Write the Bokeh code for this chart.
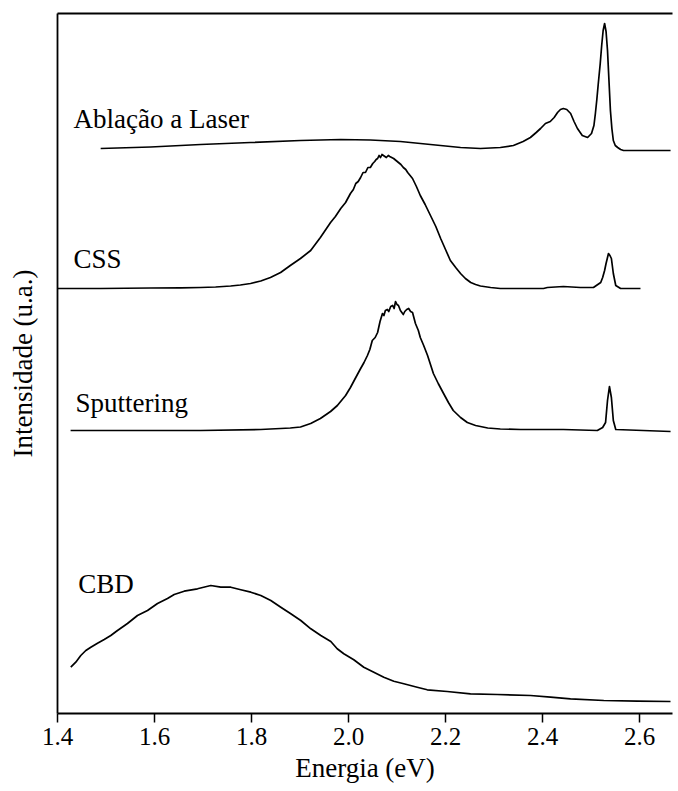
from bokeh.plotting import figure
from bokeh.models import LinearAxis, FixedTicker, PrintfTickFormatter
from bokeh.core.properties import value
from bokeh.embed import file_html
from bokeh.resources import INLINE

FONT = "Liberation Serif"

# Energia (eV) and intensity (u.a., vertically offset) for each spectrum
abl_E = [1.489, 1.592, 1.695, 1.798, 1.901, 1.984, 2.045, 2.107, 2.169, 2.231, 2.272, 2.313,
         2.340, 2.360, 2.375, 2.387, 2.396, 2.406, 2.416, 2.424, 2.431, 2.437, 2.443, 2.450,
         2.458, 2.465, 2.472, 2.482, 2.493, 2.501, 2.506, 2.509, 2.512, 2.515, 2.519, 2.522,
         2.525, 2.528, 2.531, 2.534, 2.537, 2.540, 2.543, 2.546, 2.550, 2.555, 2.561, 2.567,
         2.664]
abl_I = [565, 566.5, 569, 571, 573, 574, 573.5, 572, 569, 566, 565, 566,
         568, 572, 576, 581, 585, 590, 592, 596, 601, 604, 605, 604,
         600, 592, 585, 578, 576, 580, 588, 600, 614, 630, 650, 668,
         683, 690, 682, 663, 633, 603, 585, 573, 568, 566, 564, 563,
         563]

css_E = [1.400, 1.489, 1.592, 1.654, 1.695, 1.726, 1.757, 1.777, 1.798, 1.819, 1.839, 1.860,
         1.880, 1.901, 1.922, 1.942, 1.963, 1.973, 1.984, 1.994, 2.004, 2.010, 2.015, 2.020,
         2.025, 2.030, 2.035, 2.040, 2.045, 2.050, 2.054, 2.057, 2.060, 2.063, 2.066, 2.069,
         2.072, 2.075, 2.078, 2.082, 2.085, 2.089, 2.093, 2.098, 2.103, 2.108, 2.113, 2.118,
         2.122, 2.127, 2.132, 2.140, 2.148, 2.158, 2.169, 2.180, 2.190, 2.200, 2.210, 2.221,
         2.231, 2.241, 2.252, 2.262, 2.272, 2.293, 2.313, 2.402, 2.410, 2.443, 2.478, 2.505,
         2.514, 2.520, 2.524, 2.528, 2.531, 2.534, 2.536, 2.539, 2.542, 2.546, 2.551, 2.561,
         2.602]
css_I = [425, 425, 425.5, 425.7, 426, 426.5, 427.5, 428.5, 430, 432.5, 436, 441,
         448, 455, 463, 476, 491, 497, 505, 511, 520, 524, 530, 532,
         536, 541, 541, 546, 546, 550, 552, 554, 555, 558, 556, 559,
         558, 557, 556, 558, 557, 556, 555, 553, 551, 549, 546, 544,
         541, 538, 535, 527, 518, 509, 498, 487, 475, 464, 453, 446,
         440, 435, 431, 429, 427.5, 426, 425, 425, 426, 427,
         426, 426, 429, 431, 436, 443, 450, 456, 460, 458, 455, 440, 428, 425,
         425]

spt_E = [1.427, 1.592, 1.695, 1.819, 1.839, 1.860, 1.880, 1.901, 1.922, 1.942, 1.963, 1.977,
         1.994, 2.004, 2.015, 2.025, 2.032, 2.039, 2.044, 2.049, 2.055, 2.060, 2.065, 2.070,
         2.073, 2.076, 2.080, 2.083, 2.087, 2.091, 2.094, 2.097, 2.100, 2.103, 2.107, 2.110,
         2.113, 2.116, 2.120, 2.124, 2.128, 2.132, 2.138, 2.144, 2.148, 2.155, 2.163, 2.175,
         2.185, 2.196, 2.206, 2.216, 2.231, 2.245, 2.262, 2.287, 2.313, 2.355, 2.443, 2.513,
         2.524, 2.530, 2.534, 2.538, 2.542, 2.546, 2.551, 2.664]
spt_I = [283, 283, 283, 284, 284.5, 285, 285.5, 286.5, 290, 295, 302, 308,
         318, 326, 336, 345, 351, 358, 364, 373, 376, 381, 392, 400,
         398, 403, 404, 402, 407, 408, 405, 412, 409, 408, 403, 401,
         399, 402, 404, 405, 402, 401, 390, 383, 376, 368, 358, 340,
         330, 320, 311, 303, 296, 291, 288, 285.5, 284.5, 284, 284, 283,
         286, 291, 313, 327, 316, 293, 284, 282]

cbd_E = [1.4274, 1.4377, 1.4480, 1.4584, 1.4687, 1.4825, 1.4963, 1.5099, 1.5237, 1.5443,
         1.5649, 1.5856, 1.6062, 1.6268, 1.6406, 1.6612, 1.6887, 1.7161, 1.7367, 1.7573,
         1.7779, 1.7986, 1.8192, 1.8398, 1.8604, 1.8810, 1.9016, 1.9223, 1.9429, 1.9635,
         1.9767, 1.9903, 2.0109, 2.0315, 2.0522, 2.0728, 2.0934, 2.1140, 2.1416, 2.1623,
         2.2035, 2.2515, 2.3066, 2.3753, 2.4165, 2.4577, 2.5264, 2.5953, 2.6639]
cbd_I = [46.3, 51.3, 58, 63, 66.3, 70.3, 74, 78, 83, 90,
         98, 103, 110, 115, 119, 122.3, 124.7, 128, 126.3, 126.3,
         123.7, 121.3, 118, 113, 106.3, 99.7, 93, 84.7, 78, 72,
         64.7, 59.7, 53.7, 46.3, 41.3, 36.3, 32.3, 29.7, 26.3, 23.7,
         22, 19.7, 19, 18, 16.3, 14.7, 13, 12.3, 12]

labels = ["Ablação a Laser", "CSS", "Sputtering", "CBD"]
label_E = [1.433, 1.433, 1.437, 1.443]
label_I = [595, 455, 311, 130]

x_ticks = [1.4, 1.6, 1.8, 2.0, 2.2, 2.4, 2.6]

p = figure(width=678, height=791, x_range=(1.4, 2.668), y_range=(0, 700),
           output_backend="svg", toolbar_location=None,
           min_border_left=57, min_border_right=6, min_border_top=13, min_border_bottom=78)
p.outline_line_color = None
p.grid.visible = False
p.background_fill_color = "white"
p.border_fill_color = "white"

for xs, ys in [(abl_E, abl_I), (css_E, css_I), (spt_E, spt_I), (cbd_E, cbd_I)]:
    p.line(xs, ys, line_color="black", line_width=1.7, line_join="round")

p.text(x=label_E, y=label_I, text=labels, text_font=value(FONT), text_font_size="27px",
       text_baseline="middle", text_align="left", text_color="black")

xa = p.xaxis[0]
xa.ticker = FixedTicker(ticks=x_ticks)
xa.formatter = PrintfTickFormatter(format="%.1f")
xa.minor_tick_line_color = None
xa.major_tick_out = 9
xa.major_tick_in = 0
xa.major_tick_line_width = 1.5
xa.axis_line_width = 1.8
xa.major_label_text_font = FONT
xa.major_label_text_font_size = "25px"
xa.major_label_text_color = "black"
xa.major_label_standoff = 5
xa.axis_label = "Energia (eV)"
xa.axis_label_text_font = FONT
xa.axis_label_text_font_size = "27px"
xa.axis_label_text_font_style = "normal"
xa.axis_label_text_color = "black"
xa.axis_label_standoff = 5

ya = p.yaxis[0]
ya.ticker = FixedTicker(ticks=[])
ya.major_tick_line_color = None
ya.minor_tick_line_color = None
ya.major_tick_out = 0
ya.major_tick_in = 0
ya.axis_line_width = 1.8
ya.axis_label = "Intensidade (u.a.)"
ya.axis_label_text_font = FONT
ya.axis_label_text_font_size = "27px"
ya.axis_label_text_font_style = "normal"
ya.axis_label_text_color = "black"
ya.axis_label_standoff = 20

top = LinearAxis(ticker=FixedTicker(ticks=[]), major_tick_line_color=None,
                 minor_tick_line_color=None, major_tick_out=0, major_tick_in=0,
                 axis_line_width=1.8)
p.add_layout(top, "above")

with open("out.html", "w") as f:
    f.write(file_html(p, INLINE))
